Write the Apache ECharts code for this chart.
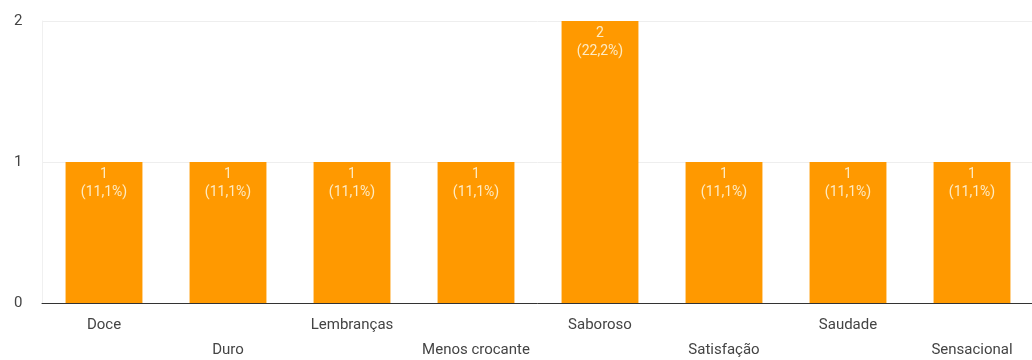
<!DOCTYPE html>
<html><head><meta charset="utf-8">
<script src="https://cdn.jsdelivr.net/npm/echarts@6/dist/echarts.min.js"></script>
<style>html,body{margin:0;padding:0;background:#fff}#c{width:1032px;height:360px}</style>
</head><body><div id="c"></div>
<script>
const categories = ['Doce','Duro','Lembranças','Menos crocante','Saboroso','Satisfação','Saudade','Sensacional'];
const counts = [1,1,1,1,2,1,1,1];
const percents = ['11,1%','11,1%','11,1%','11,1%','22,2%','11,1%','11,1%','11,1%'];

const chart = echarts.init(document.getElementById('c'));
chart.setOption({
  animation:false,
  textStyle:{fontFamily:'Roboto, Arial, sans-serif'},
  grid:{left:42,right:-2,top:21,bottom:57,containLabel:false,outerBoundsMode:'none'},
  xAxis:{type:'category',data:categories,
    axisLine:{lineStyle:{color:'#333',width:1}},
    axisTick:{show:false},
    axisLabel:{interval:0,color:'#444',fontSize:15,margin:10,lineHeight:25,
      formatter:(v,i)=> i%2===1 ? '\n'+v : v}
  },
  yAxis:{type:'value',min:0,max:2,interval:1,
    axisLine:{show:true,lineStyle:{color:'#f0f0f0'}},axisTick:{show:false},
    axisLabel:{color:'#444',fontSize:15,margin:28,align:'left'},
    splitLine:{lineStyle:{color:'#eeeeee'}}
  },
  series:[{type:'bar',data:counts,barWidth:'62%',
    itemStyle:{color:'#ff9900'},
    label:{show:true,position:'insideTop',distance:3,color:'#fdebc4',fontSize:14,lineHeight:18,
      formatter:p=> p.value+'\n('+percents[p.dataIndex]+')'}
  }]
});
</script></body></html>
